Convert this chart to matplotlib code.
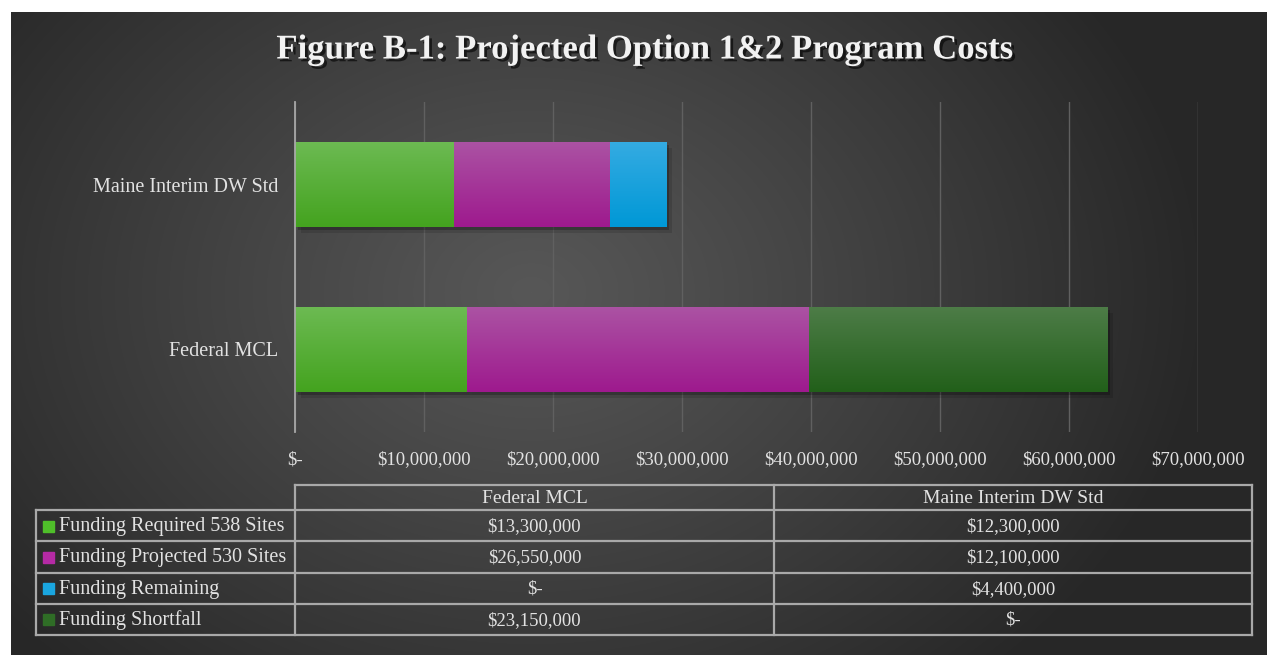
import numpy as np
import matplotlib.pyplot as plt
import matplotlib.patheffects as pe
from matplotlib.colors import to_rgb

plt.rcParams['font.family'] = ['Liberation Serif', 'DejaVu Serif']

# data
categories = ['Federal MCL', 'Maine Interim DW Std']
series = ['Funding Required 538 Sites', 'Funding Projected 530 Sites',
          'Funding Remaining', 'Funding Shortfall']
required = [13300000, 12300000]
projected = [26550000, 12100000]
remaining = [0, 4400000]
shortfall = [23150000, 0]
xticks = [0, 10000000, 20000000, 30000000, 40000000, 50000000, 60000000, 70000000]

top_colors = ['#6cba52', '#ab52a3', '#34abe2', '#4d7c47']
bottom_colors = ['#44a31f', '#9e1a8e', '#0098d6', '#22601a']
base_colors = ['#4caf26', '#a3219a', '#0a9fda', '#2b6a22']
swatch_colors = ['#4fbf2a', '#b52aa5', '#1aa6e0', '#2f6d26']

title = 'Figure B-1: Projected Option 1&2 Program Costs'
txt = '#e2e2e2'


def money(v):
    return '$-' if v == 0 else '${:,.0f}'.format(v)


W, H = 1267, 655
fig = plt.figure(figsize=(W / 100, H / 100), dpi=100, facecolor='white')

# radial gradient background
bg = fig.add_axes([11 / W, 0, 1 - 11 / W, 1 - 12 / H])
bw, bh = W - 11, H - 12
yy, xx = np.mgrid[0:bh, 0:bw]
r = np.sqrt((xx - 520.0) ** 2 + ((yy - 280.0) * 1.3) ** 2) / 680.0
r = np.clip(r, 0, 1)
lo, hi = np.array(to_rgb('#272727')), np.array(to_rgb('#575757'))
img = hi[None, None, :] + (lo - hi)[None, None, :] * (r[..., None] ** 1.1)
bg.imshow(img, aspect='auto', interpolation='bilinear')
bg.axis('off')

# bar chart
ax = fig.add_axes([295 / W, 1 - 432 / H, (1198 - 295) / W, (432 - 102) / H])
ax.set_facecolor('none')
y = np.arange(len(categories))
lefts = np.zeros(len(categories))
bar_h = 0.515
all_vals = [required, projected, remaining, shortfall]
grads = []
shadow = [pe.withSimplePatchShadow(offset=(2, -2), shadow_rgbFace='black', alpha=0.22),
          pe.withSimplePatchShadow(offset=(4, -4), shadow_rgbFace='black', alpha=0.12),
          pe.Normal()]
for vals, base, c0, c1 in zip(all_vals, base_colors, top_colors, bottom_colors):
    bars = ax.barh(y, vals, left=lefts, height=bar_h, color=base, linewidth=0, zorder=3,
                   path_effects=shadow)
    for b in bars:
        if b.get_width() > 0:
            grads.append((b, c0, c1))
    lefts = lefts + np.array(vals)

for b, c0, c1 in grads:
    t = np.linspace(0, 1, 64)[:, None, None]
    g = np.array(to_rgb(c0))[None, None, :] * (1 - t) + np.array(to_rgb(c1))[None, None, :] * t
    x0, y0 = b.get_x(), b.get_y()
    ax.imshow(g, extent=(x0, x0 + b.get_width(), y0, y0 + b.get_height()),
              origin='upper', aspect='auto', zorder=4, interpolation='bilinear')

ax.set_xlim(0, 70000000)
ax.set_ylim(-0.5, 1.5)
ax.set_xticks(xticks)
ax.set_xticklabels([money(v) for v in xticks])
ax.set_yticks(y)
ax.set_yticklabels(categories)
ax.tick_params(axis='x', length=0, pad=14, labelsize=13.5, labelcolor=txt)
ax.tick_params(axis='y', length=0, pad=12, labelsize=14.5, labelcolor=txt)
ax.grid(axis='x', color='#606060', linewidth=1, zorder=0)
for s in ['top', 'right', 'bottom']:
    ax.spines[s].set_visible(False)
ax.spines['left'].set_color('#a8a8a8')
ax.spines['left'].set_linewidth(1.3)
ax.spines['left'].set_zorder(5)

# title
fig.text(645 / W, 1 - 50 / H, title, ha='center', va='center', fontsize=25, fontweight='bold',
         color='#f2f2f2',
         path_effects=[pe.withSimplePatchShadow(offset=(2, -2), shadow_rgbFace='black', alpha=0.6)])

# data table (pixel coordinates)
tb = fig.add_axes([0, 0, 1, 1])
tb.set_xlim(0, W)
tb.set_ylim(H, 0)
tb.axis('off')
line_kw = dict(color='#a9a9a9', linewidth=1.6)
x_left, x_lab, x_mid, x_right = 36, 295, 774, 1252
row_y = [485, 510, 541.3, 572.6, 603.9, 635]
tb.plot([x_lab, x_right], [row_y[0], row_y[0]], **line_kw)
for yv in row_y[1:]:
    tb.plot([x_left, x_right], [yv, yv], **line_kw)
tb.plot([x_left, x_left], [row_y[1], row_y[-1]], **line_kw)
for xv in [x_lab, x_mid, x_right]:
    tb.plot([xv, xv], [row_y[0], row_y[-1]], **line_kw)

col_centers = [(x_lab + x_mid) / 2, (x_mid + x_right) / 2]
for cx, cat in zip(col_centers, categories):
    tb.text(cx, (row_y[0] + row_y[1]) / 2 + 1, cat, ha='center', va='center', fontsize=14, color=txt)

for i, (name, vals, sc) in enumerate(zip(series, all_vals, swatch_colors)):
    yc = (row_y[i + 1] + row_y[i + 2]) / 2
    tb.add_patch(plt.Rectangle((43, yc - 5), 11, 11, color=sc))
    tb.text(59, yc + 1, name, ha='left', va='center', fontsize=14.5, color=txt)
    for cx, v in zip(col_centers, vals):
        tb.text(cx, yc + 1, money(v), ha='center', va='center', fontsize=13.5, color=txt)

fig.savefig('out.png', dpi=100, facecolor=fig.get_facecolor())
